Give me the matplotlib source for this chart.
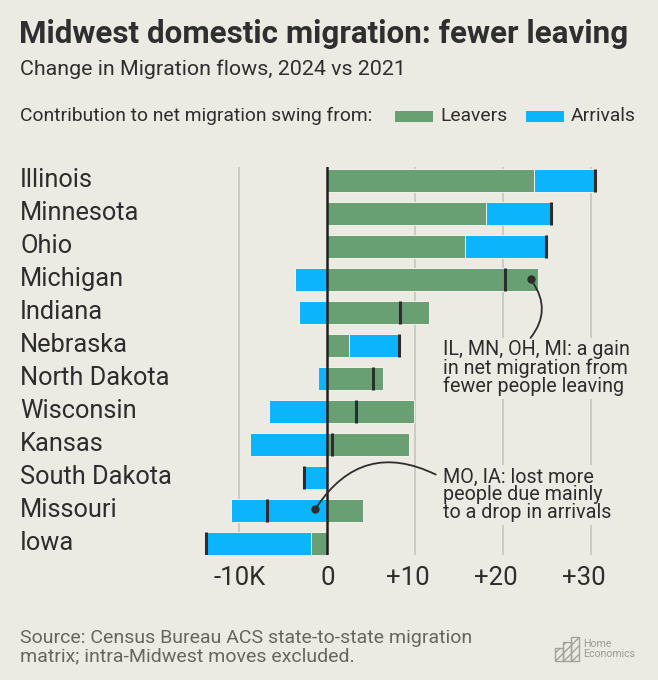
import matplotlib
matplotlib.use("Agg")
import matplotlib.pyplot as plt
import matplotlib.transforms as mtransforms
from matplotlib.patches import Rectangle, FancyArrowPatch
import numpy as np

# ---- data (thousands of people, change 2024 vs 2021) ----
states = ["Illinois", "Minnesota", "Ohio", "Michigan", "Indiana", "Nebraska",
          "North Dakota", "Wisconsin", "Kansas", "South Dakota", "Missouri", "Iowa"]
leavers = [23.5, 18.0, 15.6, 23.9, 11.5, 2.5, 6.3, 9.9, 9.3, 0.0, 4.1, -1.8]
arrivals = [6.9, 7.4, 9.3, -3.7, -3.2, 5.7, -1.1, -6.6, -8.8, -2.7, -10.9, -12.0]
tick_values = [-10, 0, 10, 20, 30]
tick_labels = ["-10K", "0", "+10", "+20", "+30"]

BG = "#ecebe3"
GREEN = "#68a073"
BLUE = "#0bb4fb"
DARK = "#2d2d2d"
GRID = "#c9c7be"
FONT = "Roboto"

W, H = 658, 680
fig = plt.figure(figsize=(W / 100, H / 100), dpi=100)
fig.patch.set_facecolor(BG)
plt.rcParams["font.family"] = [FONT, "DejaVu Sans"]


def fx(x):
    return x / W


def fy(y):
    return 1 - y / H


# axes area
ax = fig.add_axes([fx(190), fy(555), fx(620) - fx(190), fy(167) - fy(555)])
ax.set_facecolor(BG)
x0px, scale = 327.3, 8.8
ax.set_xlim((190 - x0px) / scale, (620 - x0px) / scale)
ax.set_ylim(11.35, -0.4)
for s in ax.spines.values():
    s.set_visible(False)

y = np.arange(len(states))
lv = np.array(leavers)
ar = np.array(arrivals)
same = np.sign(lv) == np.sign(ar)
ar_left = np.where(same, lv, 0.0)
net = lv + ar

bh = 0.685
ax.barh(y, lv, height=bh, color=GREEN, edgecolor="#f3f2ec", linewidth=0.7, zorder=2)
ax.barh(y, ar, left=ar_left, height=bh, color=BLUE, edgecolor="#f3f2ec", linewidth=0.7, zorder=2)
ax.vlines(net, y - bh / 2, y + bh / 2, color=DARK, lw=2.2, zorder=4)

# gridlines & zero line
for v in tick_values:
    if v == 0:
        ax.axvline(0, color="#1f1f1f", lw=1.8, zorder=3)
    else:
        ax.axvline(v, color=GRID, lw=1.3, zorder=0)

# x tick labels
ax.set_yticks([])
ax.set_xticks(tick_values)
ax.set_xticklabels(tick_labels, fontsize=18.5, color=DARK, family=FONT)
ax.tick_params(axis="x", length=0, pad=8)
for lab in ax.get_xticklabels():
    if lab.get_text().startswith("+"):
        lab.set_transform(lab.get_transform() +
                          mtransforms.ScaledTranslation(-7 / 100, 0, fig.dpi_scale_trans))

# state labels
trans = mtransforms.blended_transform_factory(fig.transFigure, ax.transData)
for i, st in enumerate(states):
    ax.text(fx(20), i, st, transform=trans, ha="left", va="center",
            fontsize=18.3, color=DARK, family=FONT)

# annotations
ann_kw = dict(fontsize=14.2, color=DARK, family=FONT, ha="left", va="center",
              linespacing=0.92, zorder=5,
              bbox=dict(facecolor=BG, edgecolor="none", pad=2))
ax.text((443 - x0px) / scale, 5.69,
        "IL, MN, OH, MI: a gain\nin net migration from\nfewer people leaving", **ann_kw)
ax.text((443 - x0px) / scale, 9.53,
        "MO, IA: lost more\npeople due mainly\nto a drop in arrivals", **ann_kw)

d1 = (23.1, 3.0)
e1 = (22.9, 4.84)
d2 = (-1.36, 9.96)
e2 = (12.6, 8.95)
for d, e, rad in [(d1, e1, -0.4), (d2, e2, -0.45)]:
    ax.plot(*d, "o", color=DARK, ms=5, zorder=6)
    ax.add_patch(FancyArrowPatch(d, e, arrowstyle="-", connectionstyle=f"arc3,rad={rad}",
                                 color=DARK, lw=1.3, zorder=6))

# titles
fig.text(fx(19), fy(34), "Midwest domestic migration: fewer leaving", ha="left", va="center",
         fontsize=22.6, fontweight="bold", color="#2f2f2f", family=FONT)
fig.text(fx(20), fy(69), "Change in Migration flows, 2024 vs 2021", ha="left", va="center",
         fontsize=15.4, color="#2f2f2f", family=FONT)

# legend
LFS = 13.9
fig.text(fx(20), fy(116), "Contribution to net migration swing from:", ha="left", va="center",
         fontsize=LFS, color=DARK, family=FONT)
fig.patches.append(Rectangle((fx(395), fy(122)), fx(38), 11 / H, transform=fig.transFigure,
                             facecolor=GREEN, edgecolor="none"))
fig.text(fx(440), fy(116), "Leavers", ha="left", va="center", fontsize=LFS, color=DARK, family=FONT)
fig.patches.append(Rectangle((fx(526), fy(122)), fx(38), 11 / H, transform=fig.transFigure,
                             facecolor=BLUE, edgecolor="none"))
fig.text(fx(571), fy(116), "Arrivals", ha="left", va="center", fontsize=LFS, color=DARK, family=FONT)

# footer
fig.text(fx(20), fy(647), "Source: Census Bureau ACS state-to-state migration\nmatrix; intra-Midwest moves excluded.",
         ha="left", va="center", fontsize=14.0, color="#666660", family=FONT, linespacing=1.0)

# logo
LOGO = "#a3a29b"
for (lx, top) in [(555, 648), (563, 642), (571, 637)]:
    fig.patches.append(Rectangle((fx(lx), fy(661)), fx(7.5), (661 - top) / H,
                                 transform=fig.transFigure, facecolor="none",
                                 edgecolor=LOGO, lw=1.0, hatch="////"))
fig.text(fx(583), fy(649), "Home\nEconomics", ha="left", va="center", fontsize=7.6,
         color="#9a9992", family=FONT, linespacing=1.0)

fig.savefig("out.png", dpi=100, facecolor=BG)
